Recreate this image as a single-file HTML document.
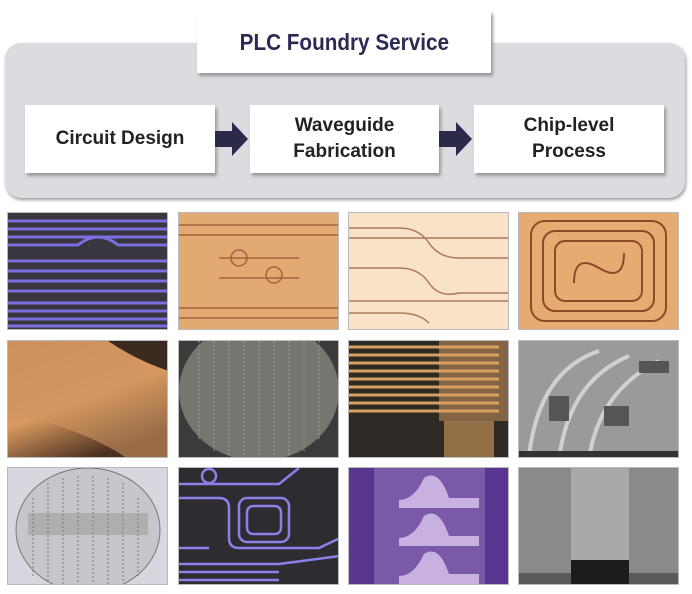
<!DOCTYPE html>
<html><head><style>
body{margin:0;width:692px;height:594px;background:#fff;position:relative;overflow:hidden;font-family:"Liberation Sans",sans-serif}
.gray{position:absolute;left:5px;top:43px;width:680px;height:155px;background:#dcdbe0;border-radius:16px;box-shadow:1px 2px 3px #999}
.box{position:absolute;background:#fff;box-shadow:2px 3px 3px #999;display:flex;align-items:center;justify-content:center;text-align:center;font-weight:bold;color:#222;font-size:19px;line-height:26px}
.title{font-size:23px;color:#2b2a52;transform:scaleX(.9)}
.arr{position:absolute;width:0;height:0}
.t{position:absolute;width:161px;height:118px;border:1px solid #bbb;box-sizing:border-box;overflow:hidden}
.t svg{display:block}
</style></head><body>
<div class="gray"></div>
<div class="box" style="left:197px;top:11px;width:294px;height:62px"><span class="title">PLC Foundry Service</span></div>
<div class="box" style="left:25px;top:105px;width:190px;height:68px">Circuit Design</div>
<div class="box" style="left:250px;top:105px;width:189px;height:68px">Waveguide<br>Fabrication</div>
<div class="box" style="left:474px;top:105px;width:190px;height:68px">Chip-level<br>Process</div>
<svg style="position:absolute;left:0;top:0" width="692" height="200">
<polygon points="215,131 232,131 232,122 248,139 232,156 232,147 215,147" fill="#2b2a4a"/>
<polygon points="439,131 456,131 456,122 472,139 456,156 456,147 439,147" fill="#2b2a4a"/>
</svg>

<!-- row 1 -->
<div class="t" style="left:7px;top:212px;background:#3a3640">
<svg width="161" height="118"><g stroke="#7b6fe0" stroke-width="3" fill="none">
<path d="M0 8H161M0 16H161M0 24H161M0 32H70Q80 24 90 24T110 32H161"/>
<path d="M0 48H161M0 58H161M0 68H161M0 78H161"/>
<path d="M0 90H161M0 98H161M0 106H161M0 113H161"/></g></svg></div>
<div class="t" style="left:178px;top:212px;background:#e0aa72">
<svg width="161" height="118"><g stroke="#a0643a" stroke-width="1.5" fill="none">
<path d="M0 12H161M0 22H161M40 45H120M40 65H120M0 95H161M0 105H161"/>
<circle cx="60" cy="45" r="8"/><circle cx="95" cy="62" r="8"/></g></svg></div>
<div class="t" style="left:348px;top:212px;background:#f8e2c8">
<svg width="161" height="118"><g stroke="#b07a5a" stroke-width="1.5" fill="none">
<path d="M0 15H50Q70 15 80 30T110 45H161M0 25H161M0 55H50Q70 55 80 70T110 80H161M0 88H161M0 100H50Q70 100 80 110"/></g></svg></div>
<div class="t" style="left:518px;top:212px;background:#e6ab70">
<svg width="161" height="118"><g stroke="#8a4a26" stroke-width="2" fill="none">
<rect x="12" y="8" width="135" height="100" rx="14"/><rect x="24" y="18" width="111" height="80" rx="12"/><rect x="36" y="28" width="87" height="60" rx="10"/><path d="M55 70Q55 40 80 55T105 40"/></g></svg></div>

<!-- row 2 -->
<div class="t" style="left:7px;top:340px;background:linear-gradient(160deg,#c58a58 0%,#d89a60 50%,#4a3020 85%)">
<svg width="161" height="118"><path d="M110 0Q130 30 150 40L161 30V118H120Q80 90 0 70V0Z" fill="#cf9560" opacity=".6"/><path d="M100 0H161V30Q130 20 100 0Z" fill="#3a2a20"/></svg></div>
<div class="t" style="left:178px;top:340px;background:#3c3b3a">
<svg width="161" height="118"><ellipse cx="80" cy="50" rx="80" ry="70" fill="#77756f"/>
<g stroke="#a09d95" stroke-width="1" stroke-dasharray="2 2"><path d="M20 0V100M35 0V110M50 0V115M65 0V118M80 0V118M95 0V118M110 0V115M125 0V110M140 0V100"/></g></svg></div>
<div class="t" style="left:348px;top:340px;background:#2e2a26">
<svg width="161" height="118"><g stroke="#d9a060" stroke-width="3" fill="none"><path d="M0 6H150M0 14H150M0 22H150M0 30H150M0 38H150M0 46H150M0 54H150M0 62H150M0 70H150"/></g>
<rect x="90" y="0" width="71" height="80" fill="#d9a060" opacity=".5"/><rect x="95" y="80" width="50" height="38" fill="#d9a060" opacity=".6"/></svg></div>
<div class="t" style="left:518px;top:340px;background:#9a9a9a">
<svg width="161" height="118"><g stroke="#d0d0d0" stroke-width="4" fill="none"><path d="M10 115Q20 30 80 10M40 118Q50 40 110 15M70 118Q80 50 140 20"/></g>
<g fill="#555"><rect x="30" y="55" width="20" height="25"/><rect x="85" y="65" width="25" height="20"/><rect x="120" y="20" width="30" height="12"/></g><rect y="110" width="161" height="8" fill="#333"/></svg></div>

<!-- row 3 -->
<div class="t" style="left:7px;top:467px;background:#d8d6de">
<svg width="161" height="118"><ellipse cx="80" cy="62" rx="72" ry="62" fill="#c8c6cc" stroke="#777"/>
<g stroke="#777" stroke-width="1" stroke-dasharray="2 2"><path d="M25 30V110M40 15V115M55 10V118M70 8V118M85 8V118M100 10V118M115 15V115M130 30V110"/></g><rect x="20" y="45" width="120" height="22" fill="#888" opacity=".4"/></svg></div>
<div class="t" style="left:178px;top:467px;background:#2e2c30">
<svg width="161" height="118"><g stroke="#8a80e8" stroke-width="2.5" fill="none">
<circle cx="30" cy="8" r="7"/><path d="M0 16H100L120 0M0 30H40Q50 30 50 40V70Q50 80 60 80H140L161 70M0 80H30"/>
<rect x="60" y="30" width="50" height="44" rx="8"/><rect x="68" y="38" width="34" height="28" rx="6"/>
<path d="M0 96H100L161 88M0 104H100M0 112H100"/></g></svg></div>
<div class="t" style="left:348px;top:467px;background:#7a5aa8">
<svg width="161" height="118"><rect x="0" y="0" width="25" height="118" fill="#5a3590"/><rect x="136" y="0" width="25" height="118" fill="#5a3590"/>
<g fill="#c8b0e0"><path d="M50 32Q65 32 75 10Q90 0 100 30H130V40H50Z"/><path d="M50 70Q65 70 75 48Q90 38 100 68H130V78H50Z"/><path d="M50 108Q65 108 75 86Q90 76 100 106H130V116H50Z"/></g></svg></div>
<div class="t" style="left:518px;top:467px;background:#8a8a8a">
<svg width="161" height="118"><rect x="52" y="0" width="58" height="118" fill="#a8a8a8"/><rect x="0" y="105" width="161" height="13" fill="#5a5a5a"/><rect x="52" y="92" width="58" height="26" fill="#1c1c1c"/></svg></div>
</body></html>
